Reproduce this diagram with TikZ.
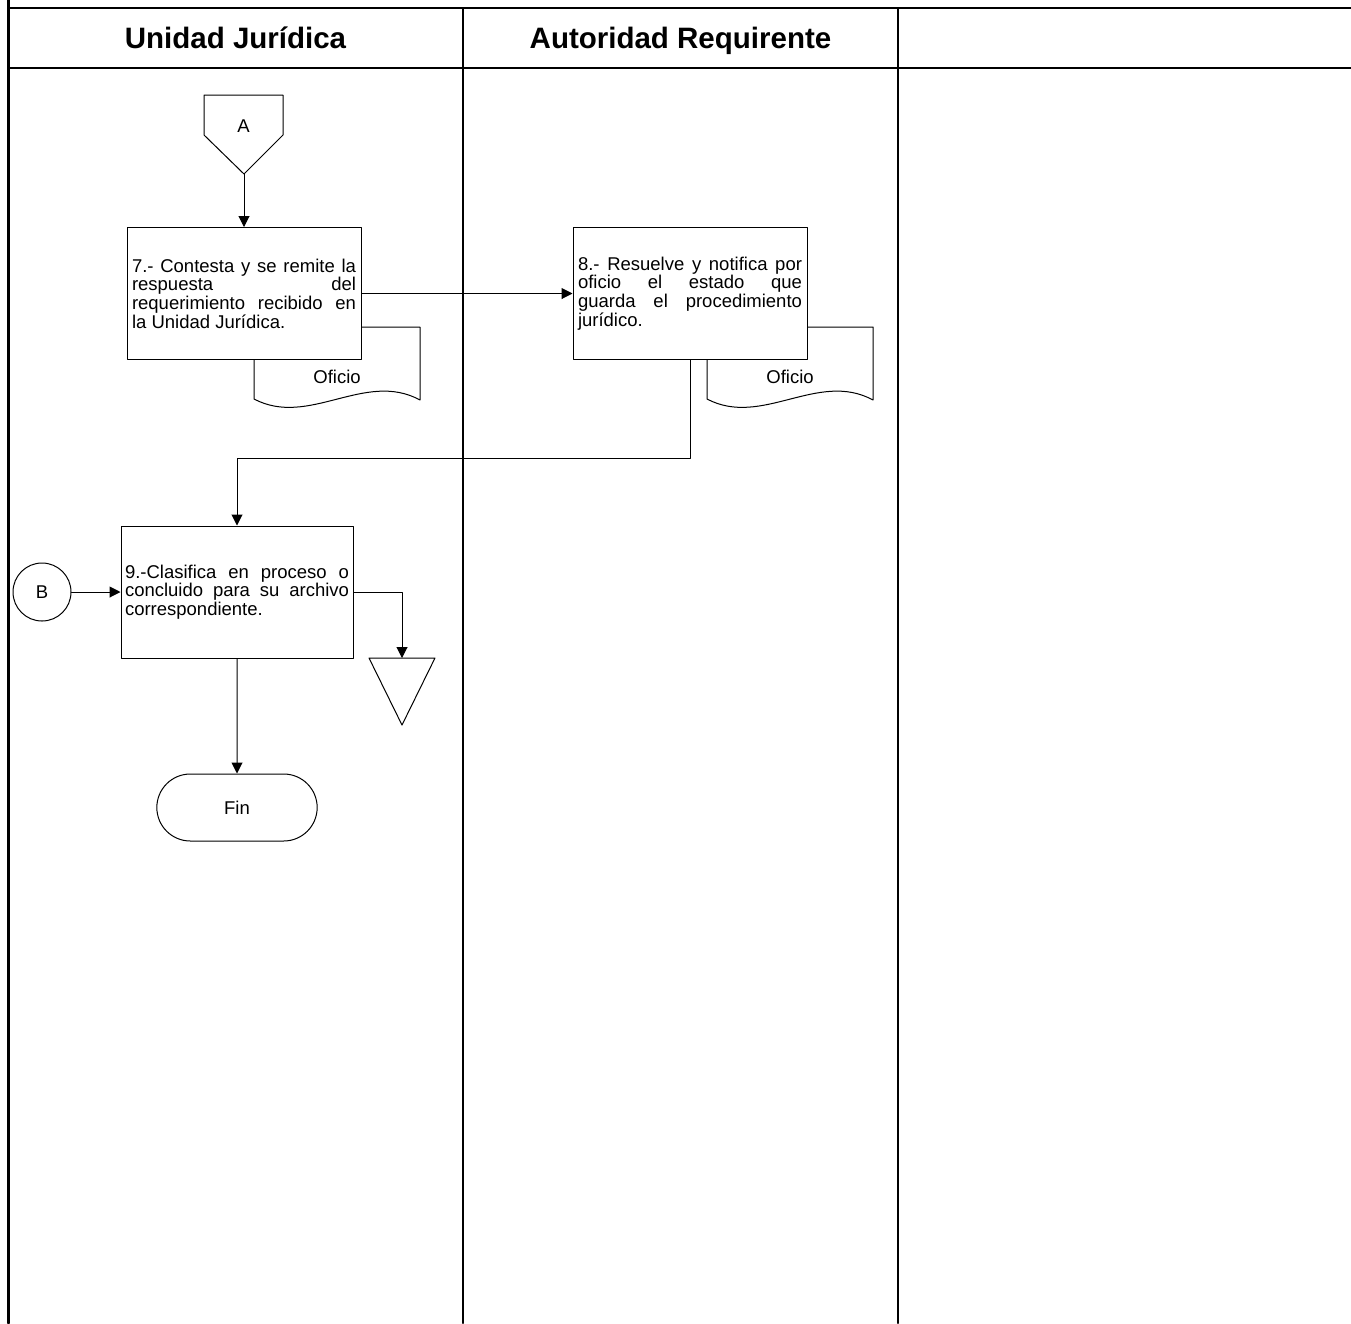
\documentclass[tikz,border=0pt]{standalone}
\usepackage{fontspec}
\setmainfont{Liberation Sans}
\usepackage{tikz}
\usetikzlibrary{arrows.meta}
\usetikzlibrary{shapes.misc}

\tikzset{
	caja/.style={draw, fill=white, line width=1pt, minimum width=234, minimum height=132,
		text width=224, inner xsep=4pt, align=justify, font=\fontsize{18.5}{18.7}\selectfont},
	texto/.style={font=\fontsize{18.5}{19}\selectfont},
	carril/.style={line width=2pt},
	titulo/.style={anchor=base, font=\fontsize{29.5}{32}\selectfont\bfseries}
}

\begin{document}
\begin{tikzpicture}[line cap=round,line join=round,>={Triangle[length=11pt,width=11pt]},x=1pt,y=-1pt,line width=1pt]

		\useasboundingbox (0,0) rectangle (1351,1323);

		%carriles y encabezado
		\draw[line width=3pt] (8,0) -- (8,1323);
		\draw[carril] (8,8) -- (1351,8);
		\draw[carril] (8,68) -- (1351,68);
		\foreach \x in {463,898}
		{\draw[carril] (\x,8) -- (\x,1323);
		}
		\node[titulo] (uj) at (235.5,48) {Unidad Jurídica};
		\node[titulo] (ar) at (680.5,48) {Autoridad Requirente};

		%conector A
		\draw (204,95) -- (283,95) -- (283,135) -- (244,174) -- (204,135) -- cycle;
		\node[texto] (A) at (243.5,126) {A};
		\coordinate (Ap) at (244,174);

		%documentos
		\draw[shift={(254,327)}] (0,0) -- (166,0) -- (166,73) .. controls (111,43) and (55,101) .. (0,72) -- cycle;
		\node[texto] (of7) at (337,377) {Oficio};
		\draw[shift={(707,327)}] (0,0) -- (166,0) -- (166,73) .. controls (111,43) and (55,101) .. (0,72) -- cycle;
		\node[texto] (of8) at (790,377) {Oficio};

		%actividades
		\node[caja] (p7) at (244,293.5) {7.- Contesta y se remite la\linebreak respuesta del\linebreak requerimiento recibido en\linebreak la Unidad Jurídica.};
		\node[caja] (p8) at (690,293.5) {8.- Resuelve y notifica por\linebreak oficio el estado que\linebreak guarda el procedimiento\linebreak jurídico.};
		\node[caja, minimum width=232, minimum height=132] (p9) at (237,592) {9.-Clasifica en proceso o\linebreak concluido para su archivo\linebreak correspondiente.};

		\node[draw, circle, minimum size=58, texto] (B) at (42,592) {B};
		\node[draw, rounded rectangle, minimum width=167, minimum height=67, texto] (fin) at (237,807.5) {Fin};

		%archivo
		\draw (369,658) -- (435,658) -- (402,725) -- cycle;
		\coordinate (arch) at (402,658);
		\coordinate (codo) at (690,458);

		%flechas
		\draw[->] (Ap) -- (Ap |- p7.north);
		\draw[->] (p7) -- (p8);
		\draw[->] (p8.south) -- (codo) -| (p9.north);
		\draw[->] (B) -- (p9);
		\draw[->] (p9.east) -| (arch);
		\draw[->] (p9) -- (fin);

	\end{tikzpicture}
\end{document}
